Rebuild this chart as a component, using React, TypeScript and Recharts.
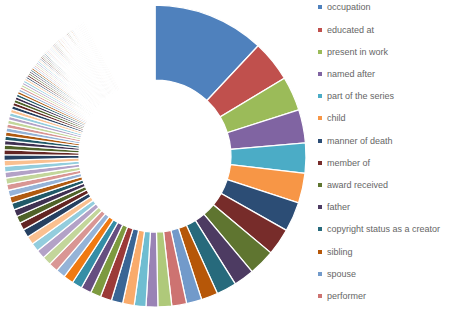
import React from 'react';
import { PieChart, Pie, Cell } from 'recharts';

// named properties shown in the legend (Excel only fits the first 14)
const LEGEND_NAMES = [
  'occupation',
  'educated at',
  'present in work',
  'named after',
  'part of the series',
  'child',
  'manner of death',
  'member of',
  'award received',
  'father',
  'copyright status as a creator',
  'sibling',
  'spouse',
  'performer',
];

// usage counts (sorted, largest first)
const TOP_VALUES = [4310, 1590, 1320, 1280, 1160, 1150, 1140, 1040, 1010, 790, 770, 640, 590, 570, 530, 455, 450, 445, 440, 435, 405];
const MID_VALUES = [400, 390, 385, 370, 360, 345, 340, 330, 320, 310, 290, 280, 270, 265, 255, 250, 240, 240, 230, 225, 220, 215];
const SMALL_VALUES = [
  190, 180, 172, 168, 160, 158, 152, 150, 146, 142, 140, 138,
  130, 122, 118, 112, 108, 102, 99, 96, 93, 90, 88, 85, 83, 80, 79, 77, 75, 73, 71, 69,
];
const FAINT_VALUES = [
  70, 68, 66, 64, 63, 62, 61, 60, 59, 58, 58, 57, 57, 56, 56,
  55, 55, 55, 54, 54, 54, 53, 53, 53, 52, 52, 52, 51, 51, 51,
  50, 50, 50, 50, 49, 49, 49, 48, 48, 48, 48, 47, 47, 47, 47,
];
// the long tail of rarely used properties, too thin to show between the borders
const REST_VALUE = 2767;

const BASE_COLORS = [
  '#4F81BD', '#C0504D', '#9BBB59', '#8064A2', '#4BACC6', '#F79646',
  '#2C4D75', '#772C2A', '#5F7530', '#4D3B62', '#276A7C', '#B65708',
  '#729ACA', '#CD7371', '#AFC97A', '#9983B5', '#6FBDD1', '#F9AB6B',
  '#3A6595', '#9C3A38', '#7D9A3F', '#664E80', '#358EA6', '#F07A12',
];
const CYCLE_COLORS = [
  '#95B3D7', '#D99694', '#C3D69B', '#B3A2C7', '#93CDDD', '#FAC090',
  '#254061', '#632523', '#4F6228', '#403152', '#215968', '#B05A10',
];

const colorAt = (i: number) =>
  i < BASE_COLORS.length ? BASE_COLORS[i] : CYCLE_COLORS[(i - BASE_COLORS.length) % CYCLE_COLORS.length];

const values = [...TOP_VALUES, ...MID_VALUES, ...SMALL_VALUES, ...FAINT_VALUES];
const data = [
  ...values.map((v, i) => ({ name: LEGEND_NAMES[i] ?? `property ${i + 1}`, value: v, fill: colorAt(i) })),
  { name: 'other properties', value: REST_VALUE, fill: '#FFFFFF' },
];

const App: React.FC = () => {
  return (
    <div style={{ position: 'absolute', left: 0, top: 0, width: 449, height: 315, background: '#fff' }}>
      <PieChart width={449} height={315} margin={{ top: 0, right: 0, bottom: 0, left: 0 }}>
        <Pie
          data={data}
          dataKey="value"
          nameKey="name"
          cx={155}
          cy={156}
          innerRadius={76}
          outerRadius={151}
          startAngle={90}
          endAngle={-270}
          stroke="#fff"
          strokeWidth={1.25}
          isAnimationActive={false}
        >
          {data.map((entry, index) => (
            <Cell key={`cell-${index}`} fill={entry.fill} />
          ))}
        </Pie>
      </PieChart>
      <div style={{ position: 'absolute', left: 318, top: 0, fontFamily: '"Liberation Sans", Arial, sans-serif', fontSize: 9, color: '#666' }}>
        {LEGEND_NAMES.map((name, i) => (
          <div
            key={name}
            style={{ position: 'absolute', top: 7.3 + i * 22.2 - 6, height: 12, lineHeight: '12px', whiteSpace: 'nowrap', display: 'flex', alignItems: 'center' }}
          >
            <span style={{ display: 'inline-block', width: 4, height: 4, background: colorAt(i), marginRight: 5 }} />
            <span>{name}</span>
          </div>
        ))}
      </div>
    </div>
  );
};

export default App;
